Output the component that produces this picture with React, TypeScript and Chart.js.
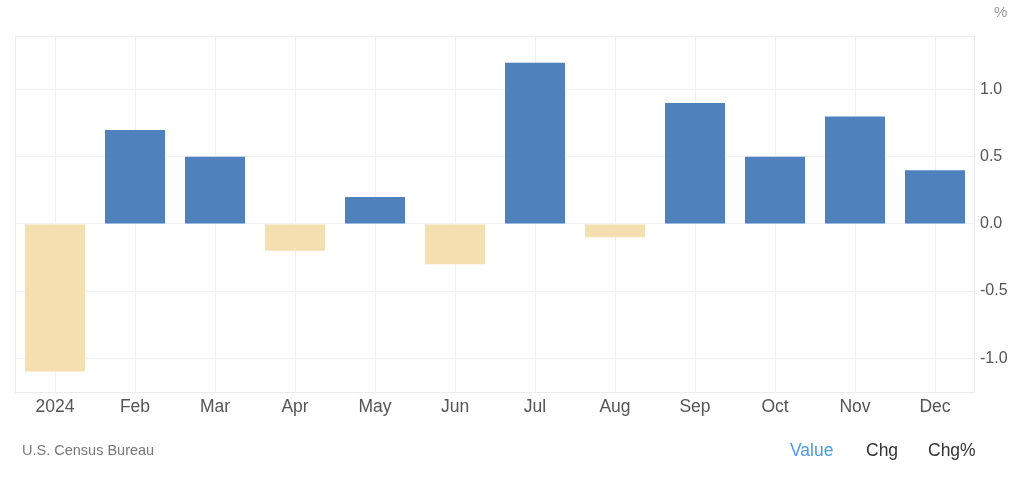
import React, { useEffect, useRef } from "react";
import { Chart, registerables } from "chart.js";

Chart.register(...registerables);

const categories = ["2024", "Feb", "Mar", "Apr", "May", "Jun", "Jul", "Aug", "Sep", "Oct", "Nov", "Dec"];
const values = [-1.1, 0.7, 0.5, -0.2, 0.2, -0.3, 1.2, -0.1, 0.9, 0.5, 0.8, 0.4];
const yTicks = [-1.0, -0.5, 0.0, 0.5, 1.0];

const POS = "#4f81bd";
const NEG = "#f5deb0";

const boxPlugin = {
  id: "box",
  beforeDatasetsDraw(chart: any) {
    const { ctx, chartArea } = chart;
    ctx.save();
    ctx.strokeStyle = "#ececec";
    ctx.lineWidth = 1;
    ctx.strokeRect(chartArea.left + 0.5, chartArea.top + 0.5, chartArea.right - chartArea.left - 1, chartArea.bottom - chartArea.top - 1);
    ctx.restore();
  },
};

export default function App() {
  const ref = useRef<HTMLCanvasElement>(null);
  useEffect(() => {
    document.body.style.margin = "0";
    const chart = new Chart(ref.current!, {
      type: "bar",
      data: {
        labels: categories,
        datasets: [
          {
            data: values,
            backgroundColor: values.map((v) => (v >= 0 ? POS : NEG)),
            categoryPercentage: 1,
            barPercentage: 0.75,
          },
        ],
      },
      options: {
        animation: false,
        responsive: false,
        maintainAspectRatio: false,
        layout: { padding: { left: 15, top: 36, right: 0, bottom: 58 } },
        plugins: { legend: { display: false }, tooltip: { enabled: false } },
        scales: {
          x: {
            grid: { offset: false, color: "#f0f0f0", drawTicks: false },
            border: { display: false },
            ticks: { color: "#555", font: { family: "Liberation Sans, Arial", size: 17.5 }, padding: 4, maxRotation: 0, autoSkip: false },
            afterFit(scale: any) { scale.height = 30; },
          },
          y: {
            position: "right",
            min: -1.26,
            max: 1.4,
            afterBuildTicks(scale: any) { scale.ticks = yTicks.map((v) => ({ value: v })); },
            grid: { color: "#f0f0f0", drawTicks: false },
            border: { display: false },
            ticks: {
              color: "#555",
              font: { family: "Liberation Sans, Arial", size: 16 },
              padding: 5,
              callback: (v: any) => Number(v).toFixed(1),
            },
            afterFit(scale: any) { scale.width = 49; },
          },
        },
      },
      plugins: [boxPlugin],
    });
    return () => chart.destroy();
  }, []);

  const txt: React.CSSProperties = { position: "absolute", fontFamily: "Liberation Sans, Arial, sans-serif", whiteSpace: "nowrap" };
  return (
    <div style={{ position: "relative", width: 1024, height: 481, background: "#fff" }}>
      <canvas ref={ref} width={1024} height={481} style={{ position: "absolute", left: 0, top: 0 }} />
      <div style={{ ...txt, left: 994, top: 3, fontSize: 15, color: "#999" }}>%</div>
      <div style={{ ...txt, left: 22, top: 442, fontSize: 14.5, color: "#777" }}>U.S. Census Bureau</div>
      <div style={{ ...txt, left: 790, top: 440, fontSize: 17.5, color: "#4a9be8" }}>Value</div>
      <div style={{ ...txt, left: 866, top: 440, fontSize: 17.5, color: "#333" }}>Chg</div>
      <div style={{ ...txt, left: 928, top: 440, fontSize: 17.5, color: "#333" }}>Chg%</div>
    </div>
  );
}
